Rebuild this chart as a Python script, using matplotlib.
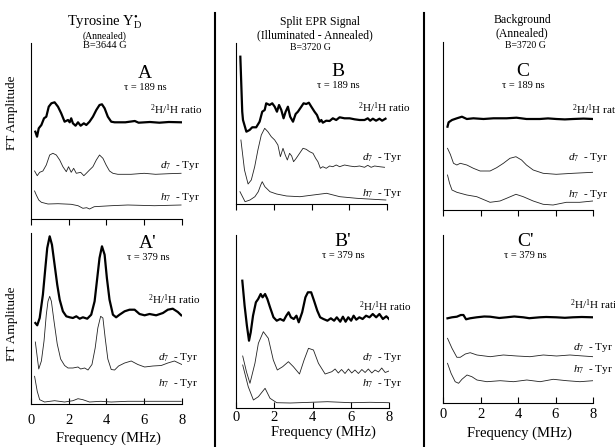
import numpy as np
import matplotlib
matplotlib.use('Agg')
import matplotlib.pyplot as plt

plt.rcParams['font.family'] = ['Liberation Serif', 'DejaVu Serif']
plt.rcParams['mathtext.fontset'] = 'custom'
plt.rcParams['mathtext.rm'] = 'Liberation Serif'
plt.rcParams['mathtext.it'] = 'Liberation Serif:italic'
plt.rcParams['mathtext.bf'] = 'Liberation Serif:bold'
plt.rcParams['axes.linewidth'] = 0.8

W, H = 615.0, 447.0

# ---- data (frequency in MHz, amplitude in arb. units) ----
# panel A  (tau = 189 ns, Tyrosine YD)
a_ratio_f = [0.23,0.32,0.41,0.55,0.69,0.81,0.94,1.08,1.25,1.43,1.60,1.78,1.96,2.05,2.13,2.22,2.36,2.49,2.63,2.80,2.93,3.10,3.28,3.46,3.63,3.76,3.90,4.07,4.25,4.43,5.0,5.5,5.7,6.3,6.8,7.3,7.95]
a_ratio_y = [87.3,82.3,90.7,94,100.7,102.3,112.3,115.7,116.7,112.3,105.7,97.3,99,96.7,100.7,95.7,93.3,96.7,93.3,95.7,94,97.3,102.3,109,114,114.7,110.7,102.3,97.3,96.7,96.7,98,96.3,97,96.3,97,96.7]
a_d7_f = [0.19,0.33,0.46,0.63,0.81,0.99,1.16,1.34,1.52,1.69,1.87,1.99,2.13,2.26,2.40,2.63,2.80,2.93,3.10,3.28,3.46,3.63,3.81,3.98,4.16,4.34,4.60,5.3,6.0,6.6,7.3,7.95]
a_d7_y = [48,43.3,46.7,48,54,64,65.7,64,59,52.3,47.3,52.3,46.7,50.7,45.7,46.7,43.3,45.7,49,52.3,59,64,60.7,54,48,45.7,44.7,44.7,45.7,44.7,45.3,45.7]
a_h7_f = [0.19,0.28,0.41,0.55,0.90,1.43,2.13,2.49,2.75,2.95,3.10,3.35,4.25,5.13,6.54,7.95]
a_h7_y = [28,24,19,16.7,15,15.3,14.7,13.3,10.7,11.3,10,12.3,13.3,14,13.3,14]

# panel B  (tau = 189 ns, split signal)
b_ratio_f = [0.23,0.33,0.37,0.55,0.72,0.86,1.07,1.25,1.39,1.52,1.60,1.78,1.92,2.05,2.17,2.28,2.40,2.52,2.63,2.75,2.87,3.02,3.16,3.28,3.46,3.58,3.72,3.86,3.99,4.16,4.29,4.43,4.52,4.60,4.78,4.96,5.13,5.31,5.49,5.75,6.02,6.28,6.55,6.81,6.98,7.11,7.25,7.42,7.60,7.74,7.92]
b_ratio_y = [147.3,92.3,84,72.3,74,76.7,76.7,82.3,92.3,94,100.7,99,100.7,97.3,92.3,99,94,85.7,92.3,97.3,87.3,82.3,90,92.3,97.3,100.7,100,101.3,97.3,92.3,89,82.3,84,81.3,83.3,83,85.7,84,86.7,85.7,85.7,84.7,84,84,85.7,83.3,85.3,83.3,85.3,83.3,85.3]
b_d7_f = [0.26,0.45,0.64,0.81,0.99,1.16,1.34,1.52,1.69,1.87,2.05,2.22,2.35,2.49,2.61,2.72,2.84,2.95,3.05,3.19,3.37,3.55,3.72,3.90,4.08,4.22,4.34,4.47,4.60,4.78,4.96,5.13,5.31,5.49,5.75,6.02,6.28,6.55,6.81,6.98,7.16,7.34,7.60,7.87]
b_d7_y = [64,34,20,24,37.3,54,69,75.7,72.3,67.3,64,59,47.3,55.7,49,44,50.7,48,42.3,45.7,50.7,55.7,54.7,52.3,50.7,45.7,42.3,35.7,37.3,35.7,38,37.3,39,37.3,39,38,37.3,38,36.7,38.7,36.7,38,37.3,36.7]
b_h7_f = [0.21,0.48,0.74,1.0,1.18,1.31,1.39,1.53,1.80,2.15,2.68,3.39,4.09,4.80,5.50,6.39,7.27,7.94]
b_h7_y = [12.3,2.3,4,7.3,12.3,19,22.3,17.3,12.3,10,8,7.3,9,10.7,7.3,5.7,4.7,4]

# panel C  (tau = 189 ns, background)
c_ratio_f = [0.24,0.30,0.48,0.74,1.01,1.27,1.62,2.16,2.69,3.39,3.92,4.45,5.16,5.6,6.04,6.5,6.93,7.5,7.99]
c_ratio_y = [83.3,87.7,90,91.7,93.3,91,91.7,91,91.7,91.7,92.3,91,91,91.6,91,90.6,91,91.4,91]
c_d7_f = [0.24,0.39,0.56,0.74,0.92,1.27,1.62,1.98,2.51,2.86,3.22,3.57,3.89,4.19,4.45,4.81,5.34,6.04,6.93,7.99]
c_d7_y = [61.7,55.7,46.7,45,46.7,45,41.7,39,39,42.3,46.7,51.7,53.3,50,45,40,36.7,35.7,36.7,37.7]
c_h7_f = [0.24,0.35,0.48,0.74,1.27,1.80,2.51,3.04,3.39,3.89,4.28,4.81,5.34,5.87,6.58,7.29,7.99]
c_h7_y = [35,26.7,20,17.7,15,13.3,7.7,9,11.7,15.7,13.3,9,5.7,5,7.7,7.7,9]

# panel A'  (tau = 379 ns)
a2_ratio_f = [0.23,0.33,0.46,0.63,0.76,0.86,0.99,1.11,1.25,1.39,1.52,1.69,1.87,2.05,2.22,2.40,2.58,2.75,2.98,3.19,3.37,3.51,3.63,3.76,3.90,4.02,4.16,4.34,4.51,4.69,4.96,5.22,5.49,5.75,6.02,6.28,6.63,6.99,7.25,7.51,7.78,7.96]
a2_ratio_y = [81,78.7,86,109.3,136,156,167.7,159.3,139.3,119.3,104.3,92.7,87.7,86.7,86,87.7,85.3,86.7,85.3,89.3,102.7,126,146,157.7,149.3,126,104.3,89.3,86.7,89.3,92.7,94.3,94.3,90,88.7,90,88.7,91,94.3,95.3,92,88.7]
a2_d7_f = [0.23,0.41,0.55,0.69,0.81,0.90,0.99,1.08,1.22,1.39,1.57,1.78,1.96,2.22,2.49,2.63,2.84,3.02,3.23,3.40,3.54,3.69,3.81,3.93,4.07,4.25,4.43,4.64,4.96,5.31,5.66,6.02,6.46,6.90,7.25,7.60,7.99]
a2_d7_y = [62,35,43,63,89.3,102.7,107.7,102.7,82.7,60,45,38.5,36,36,37,35,36,34,39.5,56,76,87.7,86,66,45,34.5,34,38,41,43,39.5,37,38,38.5,41,43,39.5]
a2_h7_f = [0.19,0.33,0.46,0.72,1.25,1.78,2.22,2.49,2.75,3.10,3.70,4.25,5.13,6.90,7.96]
a2_h7_y = [27.7,12.7,4.3,2,3.3,2,3.3,5.3,4.3,2,2.7,2,2.7,2.7,2.7]

# panel B'  (tau = 379 ns)
b2_ratio_f = [0.33,0.45,0.57,0.68,0.77,0.89,1.04,1.16,1.29,1.39,1.52,1.64,1.78,1.96,2.13,2.31,2.49,2.63,2.75,2.87,3.02,3.16,3.28,3.46,3.63,3.76,3.93,4.08,4.25,4.40,4.57,4.78,4.96,5.13,5.27,5.45,5.59,5.73,5.87,6.02,6.15,6.29,6.45,6.62,6.80,6.98,7.15,7.33,7.50,7.68,7.86,8.0]
b2_ratio_y = [127.3,102.3,82.3,67.3,75.7,92.3,105.7,109,114,110.7,114,109,100.7,90.7,87.3,89,87.3,92.3,95.7,90.7,89,92.3,85.7,95.7,110.7,115.7,115.7,107.3,97.3,90.7,89,87.3,89.7,87.3,90.7,86.3,91.3,86.3,90.7,87.3,92.3,88.3,90.7,89,92.3,90.7,94,90.7,94,89,91.7,89]
b2_d7_f = [0.35,0.55,0.73,0.99,1.17,1.43,1.69,1.95,2.16,2.44,2.74,3.00,3.32,3.56,3.79,4.05,4.31,4.66,5.01,5.18,5.35,5.52,5.70,5.88,6.05,6.22,6.40,6.58,6.75,6.92,7.10,7.27,7.45,7.62,7.80,8.0]
b2_d7_y = [52,36,24.7,44.7,64.7,76.3,69.7,48,38,41.3,46.3,41.3,34,48,59.7,58,44.7,34,36.3,39,35,38.5,34.5,39,35,38,34.5,38.5,35.5,39,35,38,36,40,35.5,37]
b2_h7_f = [0.35,0.64,0.91,1.17,1.52,1.78,2.13,2.84,3.90,4.78,6.02,7.0,8.0]
b2_h7_y = [43,21.3,8,11.3,19.7,9.7,5.3,5,5.7,6.3,5.3,5.7,5.3]

# panel C'  (tau = 379 ns)
c2_ratio_f = [0.24,0.48,0.74,0.95,1.09,1.23,1.44,1.80,2.2,2.51,3.0,3.39,3.8,4.28,4.6,5.16,5.5,6.04,6.5,6.93,7.4,7.99]
c2_ratio_y = [84.7,85.7,86.3,88,88,83.7,84.7,85.7,86.5,86.3,85,85.7,86.5,85.7,84.8,85.7,86,85.7,85.2,85.7,86,85.7]
c2_d7_f = [0.24,0.48,0.74,0.92,1.19,1.45,1.81,2.52,3.22,3.94,4.64,5.35,6.06,6.77,7.48,8.0]
c2_d7_y = [64.7,54.7,45.7,45.7,49,50.3,48,46.3,48,47,46.3,48,47,48,47,46.3]
c2_h7_f = [0.24,0.43,0.65,0.83,1.01,1.28,1.54,1.81,2.34,3.05,3.76,4.47,5.18,5.88,6.60,7.30,8.0]
c2_h7_y = [39.7,29.7,21.3,19.7,23.7,28,26.3,23,21.3,22.3,21.3,23,21.3,23.7,22.3,21.3,22.3]

freq_ticks = [0, 2, 4, 6, 8]

# axes boxes in pixels: left, right, top, bottom
panels = [
    ('A',  (31, 182, 43, 219),  (a_ratio_f, a_ratio_y),  (a_d7_f, a_d7_y),  (a_h7_f, a_h7_y),  False, 0),
    ('B',  (236, 387, 43, 204), (b_ratio_f, b_ratio_y),  (b_d7_f, b_d7_y),  (b_h7_f, b_h7_y),  False, 0),
    ('C',  (443, 593, 42, 210), (c_ratio_f, c_ratio_y),  (c_d7_f, c_d7_y),  (c_h7_f, c_h7_y),  False, 0),
    ("A'", (31, 182, 233, 404), (a2_ratio_f, a2_ratio_y), (a2_d7_f, a2_d7_y), (a2_h7_f, a2_h7_y), True, 7),
    ("B'", (236, 389, 235, 408), (b2_ratio_f, b2_ratio_y), (b2_d7_f, b2_d7_y), (b2_h7_f, b2_h7_y), True, 2.5),
    ("C'", (443, 593, 235, 403), (c2_ratio_f, c2_ratio_y), (c2_d7_f, c2_d7_y), (c2_h7_f, c2_h7_y), True, 3.5),
]

fig = plt.figure(figsize=(W/100, H/100), dpi=100)

for name, (l, r, t, b), ratio, d7, h7, labels, pad in panels:
    ax = fig.add_axes([l/W, 1-b/H, (r-l)/W, (b-t)/H])
    ax.plot(ratio[0], ratio[1], color='black', lw=1.6)
    ax.plot(d7[0], d7[1], color='#222222', lw=0.6)
    ax.plot(h7[0], h7[1], color='#222222', lw=0.6)
    ax.set_xlim(0, 8)
    ax.set_ylim(0, b-t)
    ax.set_yticks([])
    ax.set_xticks(freq_ticks)
    ax.spines['top'].set_visible(False)
    ax.spines['right'].set_visible(False)
    ax.patch.set_alpha(0)
    if labels:
        ax.tick_params(axis='x', direction='in', length=4, width=0.8, labelsize=10.5, pad=pad)
    else:
        ax.tick_params(axis='x', direction='out', length=4, width=0.8, labelbottom=False)

def txt(x, y, s, size, **kw):
    fig.text(x/W, 1-y/H, s, fontsize=size, ha=kw.pop('ha', 'center'), va=kw.pop('va', 'center'), **kw)

# column headers
txt(105, 22, u'Tyrosine Y$_\\mathrm{D}^{\u2022}$', 10.5)
txt(105, 36, '(Annealed)', 7)
txt(105, 46, 'B=3644 G', 7.5)
txt(320, 22, 'Split EPR Signal', 8.5)
txt(315, 35, '(Illuminated - Annealed)', 8.5)
txt(310, 47, 'B=3720 G', 7)
txt(522, 20, 'Background', 8.5)
txt(522, 33, '(Annealed)', 8.5)
txt(525, 45, 'B=3720 G', 7)

# panel letters and tau
letters = [('A', 145, 73, '189'), ('B', 338, 72, '189'), ('C', 523, 72, '189'),
           ("A'", 148, 243, '379'), ("B'", 343, 242, '379'), ("C'", 525, 242, '379')]
for lab, x, y, tau in letters:
    txt(x, y, lab, 14)
    txt(x, y + 14, u'\u03c4 = ' + tau + ' ns', 7.5)

# trace labels: (x ratio, x d7/h7, y ratio, y d7, y h7)
trace_labels = [(150, 160, 110, 165, 198), (358, 362, 108, 157, 193), (572, 568, 110, 157, 195),
                (148, 158, 300, 357, 383), (359, 362, 307, 358, 383), (570, 573, 305, 348, 370)]
for xr, xd, yr, yd, yh in trace_labels:
    txt(xr, yr, r'$^2$H/$^1$H ratio', 8, ha='left')
    txt(xd, yd, r'$d_7$  - Tyr', 8, ha='left')
    txt(xd, yh, r'$h_7$  - Tyr', 8, ha='left')

# axis titles
txt(12, 113, 'FT Amplitude', 9.5, rotation=90)
txt(12, 324, 'FT Amplitude', 9.5, rotation=90)
txt(108, 438, 'Frequency (MHz)', 10.5)
txt(323, 432, 'Frequency (MHz)', 10.5)
txt(519, 433, 'Frequency (MHz)', 10.5)

# column separators
for xs in (215, 424):
    fig.add_artist(plt.Line2D([xs/W, xs/W], [0, 1-13/H], color='black', lw=1.5))

fig.savefig('out.png', dpi=100)
